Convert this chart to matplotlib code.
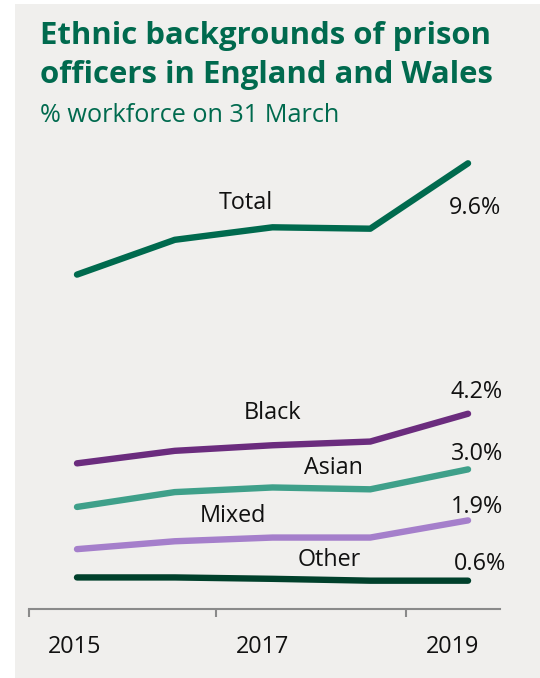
import matplotlib
matplotlib.use("Agg")
from matplotlib import pyplot as plt
from matplotlib.patches import Rectangle

years = [2015, 2016, 2017, 2018, 2019]
total = [7.20, 7.95, 8.22, 8.19, 9.6]
black = [3.13, 3.40, 3.52, 3.60, 4.2]
asian = [2.19, 2.51, 2.61, 2.57, 3.0]
mixed = [1.28, 1.45, 1.53, 1.53, 1.9]
other = [0.67, 0.67, 0.64, 0.60, 0.6]

tick_marks = [2014.51, 2016.42, 2018.37]
tick_label_pos = [2014.98, 2016.90, 2018.84]
tick_labels = ["2015", "2017", "2019"]

GREEN = "#006a4e"
BG = "#f0efed"
FONT = "Open Sans"

# (values, colour, name, name position, value label position)
series = [
    (total, GREEN, "Total", (2016.73, 8.74), (2019.07, 8.64)),
    (black, "#6b2c7e", "Black", (2017.0, 4.22), (2019.09, 4.67)),
    (asian, "#3fa08a", "Asian", (2017.62, 3.04), (2019.09, 3.33)),
    (mixed, "#a57fcb", "Mixed", (2016.6, 2.0), (2019.09, 2.19)),
    (other, "#00402b", "Other", (2017.58, 1.05), (2019.12, 0.96)),
]

fig = plt.figure(figsize=(5.4, 6.78), dpi=100)
fig.patch.set_facecolor("white")
fig.patches.append(Rectangle((15 / 540, 0), 1, 674 / 678, transform=fig.transFigure,
                             facecolor=BG, edgecolor="none", zorder=-5))

fig.text(40 / 540, 1 - 36 / 678, "Ethnic backgrounds of prison", fontsize=22.4,
         fontweight="bold", color=GREEN, family=FONT, va="center")
fig.text(40 / 540, 1 - 75 / 678, "officers in England and Wales", fontsize=22.4,
         fontweight="bold", color=GREEN, family=FONT, va="center")
fig.text(40 / 540, 1 - 116 / 678, "% workforce on 31 March", fontsize=18.2,
         color=GREEN, family=FONT, va="center")

ax = fig.add_axes([29 / 540, 0.1025, 471 / 540, 0.684])
ax.set_facecolor("none")
ax.set_xlim(2014.509, 2019.327)
ax.set_ylim(0, 10)

for values, colour, name, name_xy, val_xy in series:
    ax.plot(years, values, color=colour, linewidth=4.6, solid_capstyle="round",
            solid_joinstyle="round", clip_on=False)
    ax.text(name_xy[0], name_xy[1], name, fontsize=16.8, family=FONT,
            color="#111111", ha="center", va="center")
    ax.text(val_xy[0], val_xy[1], f"{values[-1]:.1f}%", fontsize=16.8,
            family=FONT, color="#111111", ha="center", va="center")

for side in ["top", "right", "left"]:
    ax.spines[side].set_visible(False)
ax.spines["bottom"].set_color("#8a8a8a")
ax.spines["bottom"].set_linewidth(1.5)
ax.set_yticks([])

ax.set_xticks(tick_marks)
ax.set_xticklabels([])
ax.tick_params(axis="x", which="major", length=6, width=1.5, color="#8a8a8a")
ax.set_xticks(tick_label_pos, minor=True)
ax.set_xticklabels(tick_labels, minor=True, fontsize=16.8, family=FONT,
                   color="#111111")
ax.tick_params(axis="x", which="minor", length=0, pad=19)

fig.savefig("out.png", dpi=100)
